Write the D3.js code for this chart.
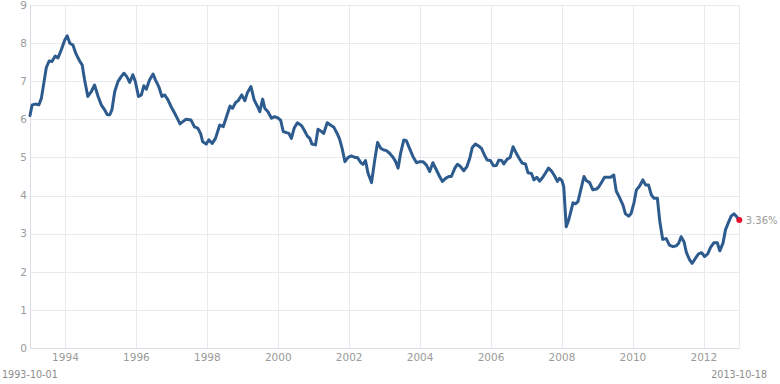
<!DOCTYPE html>
<html>
<head>
<meta charset="utf-8">
<script src="https://cdn.jsdelivr.net/npm/d3@7/dist/d3.min.js"></script>
<style>
  html, body { margin: 0; padding: 0; background: #fff; }
  svg { display: block; }
  text { font-family: "DejaVu Sans", sans-serif; }
</style>
</head>
<body>
<svg id="chart" width="780" height="384"></svg>
<script>
// ---- data (decimal year, yield %) ----
const years = [
  1993.00,1993.06,1993.15,1993.25,1993.32,1993.39,1993.46,1993.54,1993.62,1993.71,1993.79,1993.88,1993.98,
  1994.05,1994.12,1994.21,1994.30,1994.40,1994.47,1994.54,1994.63,1994.73,1994.82,1994.92,
  1995.01,1995.09,1995.18,1995.25,1995.31,1995.39,1995.48,1995.57,1995.65,1995.73,1995.81,1995.90,1995.97,
  1996.06,1996.14,1996.21,1996.28,1996.37,1996.47,1996.54,1996.63,1996.72,1996.80,1996.89,1996.98,
  1997.08,1997.15,1997.23,1997.31,1997.40,1997.54,1997.64,1997.73,1997.81,1997.87,1997.97,
  1998.04,1998.14,1998.23,1998.35,1998.45,1998.54,1998.64,1998.71,1998.80,1998.87,1998.97,
  1999.06,1999.13,1999.23,1999.32,1999.42,1999.48,1999.56,1999.62,1999.71,1999.81,1999.90,
  2000.00,2000.07,2000.14,2000.23,2000.30,2000.37,2000.45,2000.54,2000.66,2000.73,2000.82,2000.89,2000.95,
  2001.05,2001.12,2001.22,2001.28,2001.38,2001.47,2001.57,2001.66,2001.73,2001.80,2001.88,2001.97,
  2002.06,2002.16,2002.23,2002.33,2002.39,2002.46,2002.53,2002.63,2002.72,2002.80,2002.89,2002.96,
  2003.05,2003.14,2003.24,2003.31,2003.38,2003.45,2003.54,2003.61,2003.71,2003.80,2003.90,2003.99,
  2004.08,2004.18,2004.27,2004.36,2004.46,2004.55,2004.63,2004.72,2004.81,2004.88,2004.98,
  2005.05,2005.14,2005.23,2005.32,2005.40,2005.47,2005.56,2005.65,2005.73,2005.80,2005.89,2005.98,
  2006.07,2006.15,2006.22,2006.30,2006.36,2006.45,2006.54,2006.62,2006.69,2006.79,2006.88,2006.97,
  2007.04,2007.14,2007.21,2007.29,2007.37,2007.46,2007.54,2007.62,2007.70,2007.79,2007.87,2007.93,
  2008.00,2008.05,2008.12,2008.19,2008.26,2008.31,2008.38,2008.45,2008.53,2008.62,2008.69,2008.78,2008.87,2008.97,
  2009.04,2009.13,2009.20,2009.28,2009.37,2009.46,2009.53,2009.62,2009.72,2009.79,2009.88,2009.95,
  2010.03,2010.10,2010.19,2010.28,2010.36,2010.44,2010.52,2010.59,2010.69,2010.76,2010.84,2010.94,
  2011.03,2011.13,2011.22,2011.29,2011.36,2011.44,2011.51,2011.60,2011.67,2011.76,2011.85,2011.94,
  2012.02,2012.11,2012.19,2012.28,2012.38,2012.45,2012.54,2012.61,2012.70,2012.77,2012.85,2012.92,2013.00
];
const values = [
  6.10,6.38,6.40,6.38,6.55,6.95,7.36,7.53,7.52,7.66,7.61,7.82,8.08,
  8.19,8.00,7.95,7.71,7.53,7.43,7.03,6.60,6.73,6.90,6.60,
  6.38,6.27,6.12,6.12,6.25,6.73,6.99,7.12,7.21,7.12,6.97,7.17,6.99,
  6.60,6.64,6.88,6.79,7.03,7.19,7.03,6.86,6.60,6.64,6.51,6.33,
  6.16,6.03,5.88,5.94,6.00,5.98,5.80,5.77,5.63,5.41,5.35,
  5.46,5.37,5.50,5.85,5.81,6.07,6.35,6.29,6.44,6.49,6.64,
  6.49,6.70,6.86,6.51,6.33,6.20,6.53,6.29,6.20,6.03,6.07,
  6.03,5.97,5.68,5.65,5.63,5.50,5.77,5.91,5.83,5.72,5.56,5.50,5.35,
  5.33,5.74,5.68,5.63,5.91,5.85,5.79,5.63,5.48,5.24,4.89,5.00,
  5.04,5.00,5.00,4.86,4.82,4.92,4.59,4.34,4.93,5.39,5.24,5.20,
  5.18,5.11,5.00,4.89,4.72,5.11,5.46,5.44,5.22,5.02,4.86,4.89,
  4.89,4.80,4.63,4.86,4.67,4.50,4.37,4.45,4.50,4.50,4.72,
  4.82,4.76,4.65,4.76,4.98,5.26,5.35,5.30,5.24,5.09,4.93,4.92,
  4.78,4.79,4.93,4.92,4.83,4.95,5.00,5.28,5.15,4.98,4.85,4.83,
  4.60,4.58,4.41,4.48,4.38,4.48,4.60,4.72,4.65,4.52,4.37,4.45,
  4.39,4.23,3.18,3.36,3.62,3.81,3.78,3.84,4.15,4.50,4.39,4.34,4.15,4.17,
  4.23,4.37,4.48,4.48,4.48,4.54,4.12,3.95,3.75,3.52,3.46,3.53,
  3.81,4.15,4.25,4.41,4.28,4.28,4.02,3.93,3.93,3.31,2.85,2.87,
  2.70,2.66,2.68,2.75,2.92,2.79,2.50,2.31,2.22,2.35,2.47,2.50,
  2.40,2.47,2.64,2.76,2.76,2.55,2.75,3.10,3.31,3.46,3.52,3.45,3.36
];
const yTicks = [0,1,2,3,4,5,6,7,8,9];
const xTicks = [1994,1996,1998,2000,2002,2004,2006,2008,2010,2012];
const startLabel = "1993-10-01";
const endLabel = "2013-10-18";
const lastLabel = "3.36%";

// ---- scales ----
const svg = d3.select("#chart");
const x = d3.scaleLinear().domain([1993, 2013]).range([30, 739.3]);
const y = d3.scaleLinear().domain([0, 9]).range([348, 5]);
const data = years.map((d, i) => ({ t: d, v: values[i] }));

// grid
const grid = svg.append("g");
grid.selectAll("line.h").data(yTicks).join("line")
  .attr("x1", x(1993)).attr("x2", x(2013))
  .attr("y1", d => Math.round(y(d)) + 0.5).attr("y2", d => Math.round(y(d)) + 0.5)
  .attr("stroke", "#e9e9f0").attr("stroke-width", 1);
grid.selectAll("line.v").data(xTicks.concat([2013])).join("line")
  .attr("x1", d => Math.round(x(d)) + 0.5).attr("x2", d => Math.round(x(d)) + 0.5)
  .attr("y1", y(9)).attr("y2", y(0))
  .attr("stroke", "#e9e9f0").attr("stroke-width", 1);
// left axis line
svg.append("line")
  .attr("x1", Math.round(x(1993)) + 0.5).attr("x2", Math.round(x(1993)) + 0.5)
  .attr("y1", y(9)).attr("y2", y(0))
  .attr("stroke", "#dcdce6");
svg.append("line")
  .attr("x1", x(1993)).attr("x2", x(2013))
  .attr("y1", Math.round(y(0)) + 0.5).attr("y2", Math.round(y(0)) + 0.5)
  .attr("stroke", "#dcdce6");

// y axis labels
svg.append("g").selectAll("text").data(yTicks).join("text")
  .attr("x", 27).attr("y", d => y(d)).attr("dy", "0.36em")
  .attr("text-anchor", "end").attr("font-size", 10.5).attr("fill", "#9a9a9a")
  .text(d => d);

// x axis labels
svg.append("g").selectAll("text").data(xTicks).join("text")
  .attr("x", d => x(d)).attr("y", 360.5)
  .attr("text-anchor", "middle").attr("font-size", 10.5).attr("fill", "#9a9a9a")
  .text(d => d);

// corner date labels
svg.append("text").attr("x", 2).attr("y", 377.5).attr("font-size", 9.6)
  .attr("fill", "#8c8c8c").text(startLabel);
svg.append("text").attr("x", 767).attr("y", 377.5).attr("font-size", 9.6)
  .attr("text-anchor", "end").attr("fill", "#8c8c8c").text(endLabel);

// line
const line = d3.line().x(d => x(d.t)).y(d => y(d.v)).curve(d3.curveLinear);
svg.append("path").datum(data)
  .attr("d", line)
  .attr("fill", "none")
  .attr("stroke", "#2d5b8e")
  .attr("stroke-width", 3)
  .attr("stroke-linejoin", "round")
  .attr("stroke-linecap", "round");

// last point
const last = data[data.length - 1];
svg.append("circle").attr("cx", x(last.t)).attr("cy", y(last.v)).attr("r", 3)
  .attr("fill", "#e5112b");
svg.append("text").attr("x", x(last.t) + 6.5).attr("y", y(last.v)).attr("dy", "0.36em")
  .attr("font-size", 10).attr("fill", "#9a9a9a").text(lastLabel);
</script>
</body>
</html>
